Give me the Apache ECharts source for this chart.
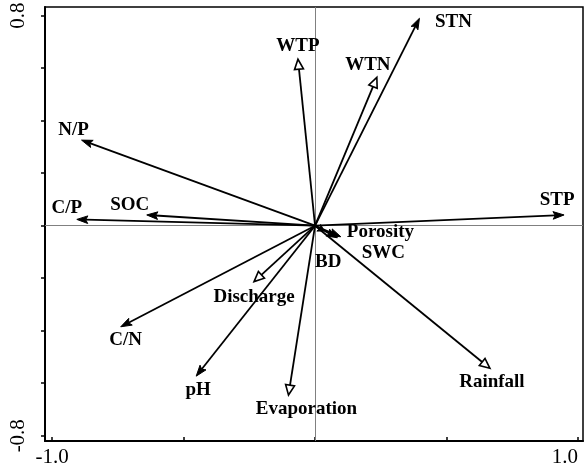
<!DOCTYPE html>
<html>
<head>
<meta charset="utf-8">
<script src="https://cdn.jsdelivr.net/npm/echarts@6/dist/echarts.min.js"></script>
<style>
html,body{margin:0;padding:0;background:#fff;}
#chart{width:585px;height:476px;}
</style>
</head>
<body>
<div id="chart"></div>
<script>
// ---- data ----
const names = ['STN','STP','WTP','WTN','N/P','SOC','C/P','C/N','pH','Discharge','Evaporation','Rainfall','Porosity','SWC','BD'];
const xs    = [0.397, 0.947, -0.065, 0.235, -0.888, -0.640, -0.906, -0.739, -0.452, -0.232, -0.101, 0.665, 0.098, 0.085, 0.035];
const ys    = [0.790, 0.041, 0.634, 0.565, 0.326, 0.041, 0.024, -0.385, -0.573, -0.213, -0.645, -0.543, -0.042, -0.046, -0.020];
const headTypes = ['filled','filled','open','open','filled','filled','filled','filled','filled','open','open','open','filled','filled','filled'];
const xTickValues = [-1, -0.5, 0, 0.5, 1];
const xLabelValues = [-1, 1];
const yTickValues = [-0.8, -0.6, -0.4, -0.2, 0, 0.2, 0.4, 0.6, 0.8];
const yLabelValues = [-0.8, 0.8];

// ---- label placement (pixel offsets from arrow tip) ----
const labelStyle = {
  'STN': [34, 4, 'center'],
  'STP': [-7, -15, 'center'],
  'WTP': [0, -13, 'center'],
  'WTN': [-9, -12, 'center'],
  'N/P': [-8, -10, 'center'],
  'SOC': [-17, -10, 'center'],
  'C/P': [-10, -11, 'center'],
  'C/N': [5, 13, 'center'],
  'pH': [2, 14, 'center'],
  'Discharge': [0, 15, 'center'],
  'Evaporation': [18, 14, 'center'],
  'Rainfall': [2, 14, 'center'],
  'Porosity': [6, -5, 'left'],
  'SWC': [46, 15, 'center'],
  'BD': [4, 31, 'center']
};

const chart = echarts.init(document.getElementById('chart'), null, {renderer: 'canvas'});
const fontFamily = '"Liberation Serif", "Times New Roman", serif';

function renderArrow(params, api) {
  const i = params.dataIndex;
  const o = api.coord([0, 0]);
  const p = api.coord([api.value(0), api.value(1)]);
  const dx = p[0] - o[0], dy = p[1] - o[1];
  const len = Math.hypot(dx, dy) || 1;
  const ux = dx / len, uy = dy / len;
  const nx = -uy, ny = ux;
  const open = headTypes[i] === 'open';
  const children = [];
  let headLen, halfW, points, lineEnd;
  if (open) {
    headLen = 10; halfW = 4.5;
    const bx = p[0] - ux * headLen, by = p[1] - uy * headLen;
    points = [[p[0], p[1]], [bx + nx * halfW, by + ny * halfW], [bx - nx * halfW, by - ny * halfW]];
    lineEnd = [bx, by];
  } else {
    headLen = Math.min(11, len * 0.6); halfW = 3.8;
    const bx = p[0] - ux * headLen, by = p[1] - uy * headLen;
    const mx = p[0] - ux * headLen * 0.8, my = p[1] - uy * headLen * 0.8;
    points = [[p[0], p[1]], [bx + nx * halfW, by + ny * halfW], [mx, my], [bx - nx * halfW, by - ny * halfW]];
    lineEnd = [mx, my];
  }
  children.push({
    type: 'line',
    shape: {x1: o[0], y1: o[1], x2: lineEnd[0], y2: lineEnd[1]},
    style: {stroke: '#000', lineWidth: 1.8}
  });
  children.push({
    type: 'polygon',
    shape: {points: points},
    style: open ? {fill: '#fff', stroke: '#000', lineWidth: 1.6, lineJoin: 'miter'} : {fill: '#000', stroke: '#000', lineWidth: 1}
  });
  const ls = labelStyle[names[i]] || [0, -12, 'center'];
  children.push({
    type: 'text',
    x: p[0] + ls[0],
    y: p[1] + ls[1],
    style: {
      text: names[i],
      fill: '#000',
      fontFamily: fontFamily,
      fontSize: 19,
      fontWeight: 'bold',
      align: ls[2],
      verticalAlign: 'middle'
    }
  });
  return {type: 'group', children: children};
}

const option = {
  backgroundColor: '#fff',
  animation: false,
  grid: {
    left: 45, right: 2, top: 7, bottom: 35,
    show: true, borderColor: '#000', borderWidth: 1.5, containLabel: false,
    outerBoundsMode: 'none'
  },
  xAxis: {
    type: 'value',
    min: -1.027, max: 1.019,
    axisLine: {show: true, onZero: false, lineStyle: {color: '#000', width: 2}},
    axisTick: {show: true, inside: true, length: 4, customValues: xTickValues, lineStyle: {color: '#000', width: 1.5}},
    axisLabel: {
      show: true, customValues: xLabelValues, margin: 6,
      alignMaxLabel: 'right',
      color: '#000', fontFamily: fontFamily, fontSize: 21,
      formatter: v => v.toFixed(1)
    },
    splitLine: {show: false}
  },
  yAxis: {
    type: 'value',
    min: -0.820, max: 0.833,
    axisLine: {show: true, onZero: false, lineStyle: {color: '#000', width: 2}},
    axisTick: {show: true, inside: false, length: 4, customValues: yTickValues, lineStyle: {color: '#000', width: 1.5}},
    axisLabel: {
      show: true, customValues: yLabelValues, rotate: 90, margin: 16,
      color: '#000', fontFamily: fontFamily, fontSize: 21,
      formatter: v => v.toFixed(1)
    },
    splitLine: {show: false}
  },
  series: [
    {
      type: 'line',
      data: [],
      z: 1,
      markLine: {
        silent: true,
        symbol: ['none', 'none'],
        label: {show: false},
        lineStyle: {color: '#808080', width: 1, type: 'solid'},
        data: [{xAxis: 0}, {yAxis: 0}]
      }
    },
    {
      type: 'custom',
      z: 5,
      renderItem: renderArrow,
      encode: {x: 0, y: 1},
      data: xs.map((x, i) => [x, ys[i]])
    }
  ]
};
chart.setOption(option);
</script>
</body>
</html>
